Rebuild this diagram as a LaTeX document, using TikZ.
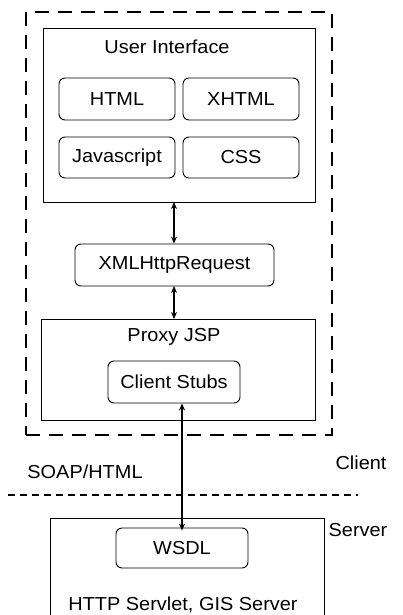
\documentclass[tikz,border=0pt]{standalone}
\usepackage{fontspec}
\setmainfont[FakeStretch=1.06]{Liberation Sans}
\usetikzlibrary{arrows.meta}
\begin{document}
\begin{tikzpicture}[x=1pt,y=-1pt,
  every node/.style={font=\fontsize{18.8}{22}\selectfont, inner sep=0pt},
  bigbox/.style={draw, line width=0.9pt, rectangle},
  rbox/.style={draw, line width=0.9pt, rounded corners=6pt, rectangle},
  conn/.style={line width=1.5pt, {Stealth[length=7pt,width=6pt]}-{Stealth[length=7pt,width=6pt]}},
  outer/.style={draw, line width=2.2pt, dash pattern=on 14pt off 9pt},
  sep/.style={line width=1.8pt, dash pattern=on 7pt off 5pt}]
\useasboundingbox (0,0) rectangle (402,615);
\clip (0,0) rectangle (402,615);
% outer client area
\node[outer, minimum width=306pt, minimum height=423pt] (client) at (179,223.5) {};
% user interface
\node[bigbox, minimum width=272pt, minimum height=174pt] (ui) at (179,115) {};
\node (uit) at (167,47) {User Interface};
\node[rbox, minimum width=116pt, minimum height=42pt] (html) at (117,99) {HTML};
\node[rbox, minimum width=116pt, minimum height=42pt] (xhtml) at (241,99) {XHTML};
\node[rbox, minimum width=116pt, minimum height=41pt] (js) at (117,157.5) {Javascript};
\node[rbox, minimum width=116pt, minimum height=41pt] (css) at (241,157.5) {CSS};
% XMLHttpRequest
\node[rbox, minimum width=199pt, minimum height=42pt] (xml) at (174.5,265) {XMLHttpRequest};
% proxy
\node[bigbox, minimum width=274pt, minimum height=101pt] (proxy) at (178,369.5) {};
\node (proxyt) at (174,337) {Proxy JSP};
\node[rbox, minimum width=132pt, minimum height=42pt] (stubs) at (174,382) {Client Stubs};
% server
\node[bigbox, minimum width=274pt, minimum height=120pt] (server) at (187,578) {};
\node[rbox, minimum width=132pt, minimum height=40pt] (wsdl) at (182,548) {WSDL};
\node (servt) at (183,605) {HTTP Servlet, GIS Server};
% labels
\node (soap) at (85,472) {SOAP/HTML};
\node (clientl) at (361,463) {Client};
\node (serverl) at (358,530) {Server};
% separator
\coordinate (sepl) at (8,495);
\coordinate (sepr) at (358,495);
\draw[sep] (sepl) -- (sepr);
% connectors
\draw[conn] (xml.north -| 174,0) -- (174,202);
\draw[conn] (174,286) -- (174,319);
\draw[conn] (wsdl.north |- stubs.south) -- ([yshift=-3pt]wsdl.north);
\end{tikzpicture}
\end{document}
